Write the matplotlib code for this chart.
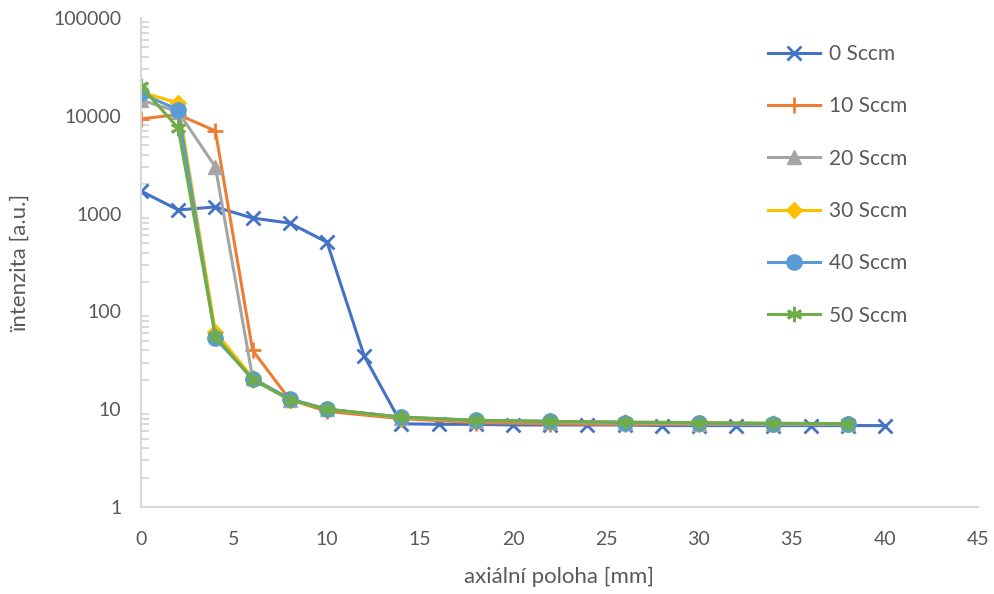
import matplotlib
matplotlib.use("Agg")
import matplotlib.pyplot as plt
from matplotlib.ticker import LogLocator, FixedLocator, NullFormatter

plt.rcParams['font.family'] = ['Lato', 'DejaVu Sans']

# data
x0 = [0, 2, 4, 6, 8, 10, 12, 14, 16, 18, 20, 22, 24, 26, 28, 30, 32, 34, 36, 38, 40]
y0 = [1700, 1090, 1170, 900, 800, 510, 35, 7.1, 7.0, 7.0, 6.9, 6.9, 6.9, 6.9, 6.8, 6.8, 6.8, 6.8, 6.8, 6.8, 6.8]

xs = [0, 2, 4, 6, 8, 10, 14, 18, 22, 26, 30, 34, 38]
y10 = [9300, 10300, 7000, 40, 12.5, 9.5, 8.0, 7.3, 7.1, 7.0, 7.0, 7.0, 7.0]
y20 = [14500, 11000, 3000, 21, 12.5, 10, 8.2, 7.6, 7.4, 7.2, 7.1, 7.0, 7.0]
y30 = [17500, 13500, 62, 21, 12.5, 10, 8.2, 7.7, 7.5, 7.3, 7.2, 7.1, 7.1]
y40 = [17000, 11500, 53, 20.5, 12.8, 10, 8.3, 7.7, 7.5, 7.3, 7.2, 7.1, 7.1]
y50 = [20000, 7500, 56, 20, 12.5, 10, 8.3, 7.7, 7.5, 7.4, 7.3, 7.2, 7.1]

labels = ['0 Sccm', '10 Sccm', '20 Sccm', '30 Sccm', '40 Sccm', '50 Sccm']
colors = ['#4472C4', '#ED7D31', '#A5A5A5', '#FFC000', '#5B9BD5', '#70AD47']

fig = plt.figure(figsize=(9.95, 5.94), dpi=100)
ax = fig.add_axes([141 / 995, 1 - 507 / 594, (978 - 141) / 995, (507 - 18) / 594])

ax.plot(x0, y0, color=colors[0], lw=2.2, marker='x', ms=10, mew=2, label=labels[0])
ax.plot(xs, y10, color=colors[1], lw=2.2, marker='+', ms=12, mew=2, label=labels[1])
ax.plot(xs, y20, color=colors[2], lw=2.2, marker='^', ms=10, label=labels[2])
ax.plot(xs, y30, color=colors[3], lw=2.2, marker='D', ms=8, label=labels[3])
ax.plot(xs, y40, color=colors[4], lw=2.2, marker='o', ms=11, label=labels[4])
ax.plot(xs, y50, color=colors[5], lw=2.2, marker=(6, 2, 0), ms=11, mew=2, label=labels[5])

ax.set_yscale('log')
ax.set_ylim(1, 100000)
ax.set_xlim(0, 45)
ax.set_xticks(range(0, 46, 5))
ax.yaxis.set_major_locator(FixedLocator([1, 10, 100, 1000, 10000, 100000]))
ax.set_yticklabels(['1', '10', '100', '1000', '10000', '100000'])
ax.yaxis.set_minor_locator(LogLocator(base=10, subs=range(2, 10)))
ax.yaxis.set_minor_formatter(NullFormatter())

for s in ['top', 'right']:
    ax.spines[s].set_visible(False)
for s in ['left', 'bottom']:
    ax.spines[s].set_color('#D9D9D9')
    ax.spines[s].set_linewidth(1.5)
ax.tick_params(axis='x', length=0, labelsize=14, colors='#595959', pad=17)
ax.tick_params(axis='y', which='major', length=0, labelsize=14, colors='#595959', pad=14)
ax.tick_params(axis='y', which='minor', direction='in', length=6, width=1.5, color='#D9D9D9')

ax.set_xlabel('axiální poloha [mm]', fontsize=16, color='#595959', labelpad=14)
ax.set_ylabel('ïntenzita [a.u.]', fontsize=16, color='#595959', labelpad=17)

leg = ax.legend(loc='upper left', bbox_to_anchor=(0.727, 0.985), frameon=False, fontsize=15,
                labelspacing=1.55, handlelength=2.5, handletextpad=0.4)
for t in leg.get_texts():
    t.set_color('#595959')

fig.savefig('out.png', dpi=100)
